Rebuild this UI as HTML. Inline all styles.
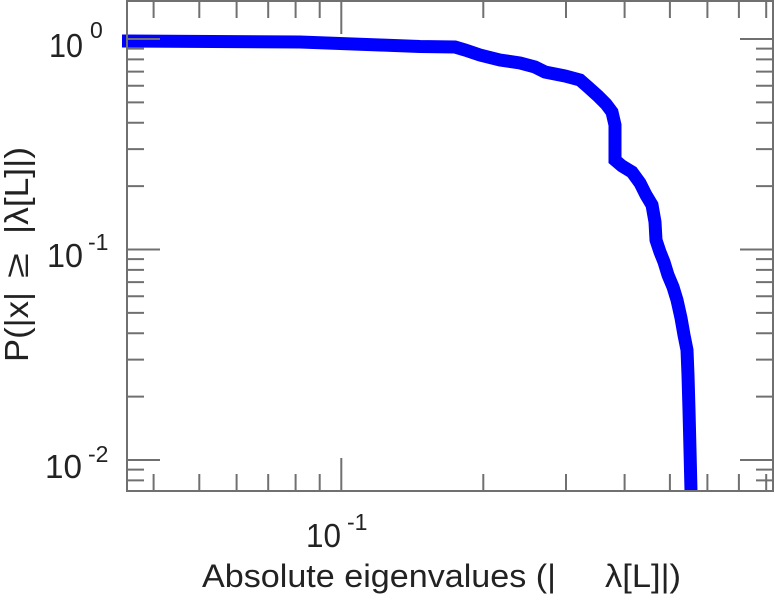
<!DOCTYPE html>
<html>
<head>
<meta charset="utf-8">
<style>
  html, body { margin: 0; padding: 0; background: #ffffff; }
  svg { display: block; }
  text { font-family: "Liberation Sans", "DejaVu Sans", sans-serif; fill: #222222; }
</style>
</head>
<body>
<svg width="775" height="600" viewBox="0 0 775 600" xmlns="http://www.w3.org/2000/svg">
  <rect x="0" y="0" width="775" height="600" fill="#ffffff"/>
  <polyline fill="none" stroke="#0000ff" stroke-width="13" stroke-linejoin="miter" stroke-linecap="butt" points="122,41 300,42 380,45 420,46.5 455,47 465,50 480,55 500,60 520,63 535,67 545,72 565,76 580,80 588,87 598,96 606,104 612,112 615,125 615,160 622,166 632,172 640,183 646,195 652,205 655,222 656,240 660,252 664,262 668,275 673,287 677,300 681,318 684,335 687,350 688,375 689,410 690,450 691,491"/>
  <rect x="127" y="1" width="646" height="490" fill="none" stroke="#707070" stroke-width="2"/>
  <path fill="none" stroke="#707070" stroke-width="2" d="M153.6 491V474M199.3 491V474M236.6 491V474M268.2 491V474M295.6 491V474M319.7 491V474M483.3 491V474M566 491V474M624.6 491V474M669.9 491V474M707.4 491V474M738.9 491V474M766.2 491V474M341.3 491V458M153.6 1V18M199.3 1V18M236.6 1V18M268.2 1V18M295.6 1V18M319.7 1V18M483.3 1V18M566 1V18M624.6 1V18M669.9 1V18M707.4 1V18M738.9 1V18M766.2 1V18M341.3 1V34"/>
  <path fill="none" stroke="#707070" stroke-width="2" d="M127 39H160M127 249.5H160M127 460H160M127 48.6H144M127 59.4H144M127 71.6H144M127 85.7H144M127 102.4H144M127 122.8H144M127 149.1H144M127 186.1H144M127 259.1H144M127 269.9H144M127 282.1H144M127 296.2H144M127 312.9H144M127 333.3H144M127 359.6H144M127 396.6H144M127 469.6H144M127 480.4H144M773 39H740M773 249.5H740M773 460H740M773 48.6H756M773 59.4H756M773 71.6H756M773 85.7H756M773 102.4H756M773 122.8H756M773 149.1H756M773 186.1H756M773 259.1H756M773 269.9H756M773 282.1H756M773 296.2H756M773 312.9H756M773 333.3H756M773 359.6H756M773 396.6H756M773 469.6H756M773 480.4H756"/>
  <text x="83" y="57" font-size="33" text-anchor="end" textLength="34" lengthAdjust="spacingAndGlyphs">10</text>
  <text x="90" y="38" font-size="23">0</text>
  <text x="83" y="267" font-size="33" text-anchor="end" textLength="36" lengthAdjust="spacingAndGlyphs">10</text>
  <text x="88" y="250" font-size="23">-1</text>
  <text x="82" y="478" font-size="33" text-anchor="end" textLength="37" lengthAdjust="spacingAndGlyphs">10</text>
  <text x="88" y="462" font-size="23">-2</text>
  <text x="341" y="547" font-size="33" text-anchor="end" textLength="35" lengthAdjust="spacingAndGlyphs">10</text>
  <text x="347" y="530" font-size="23">-1</text>
  <text x="202" y="587" font-size="32" textLength="354" lengthAdjust="spacingAndGlyphs">Absolute eigenvalues (|</text>
  <text x="605" y="587" font-size="32" textLength="76" lengthAdjust="spacingAndGlyphs">λ[L]|)</text>
  <g transform="translate(28,0) rotate(-90)">
    <text x="-362" y="0" font-size="33" textLength="70" lengthAdjust="spacingAndGlyphs">P(|x|</text>
    <text x="-278" y="0" font-size="33" textLength="25" lengthAdjust="spacingAndGlyphs">≥</text>
    <text x="-234" y="0" font-size="33" textLength="87" lengthAdjust="spacingAndGlyphs">|λ[L]|)</text>
  </g>
</svg>
</body>
</html>
